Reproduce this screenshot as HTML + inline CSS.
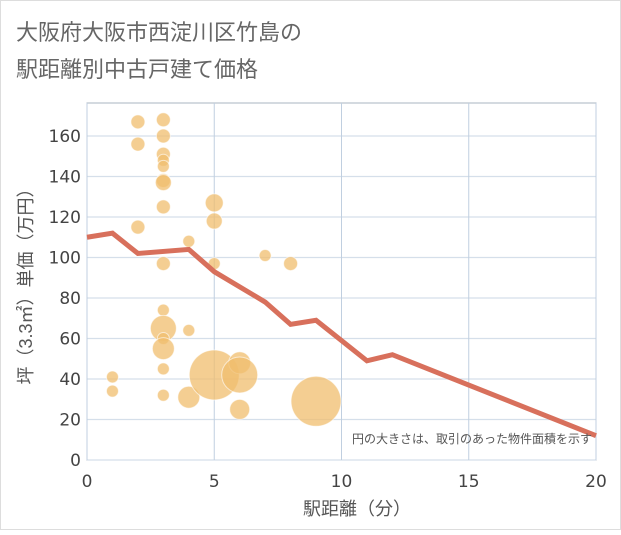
<!DOCTYPE html>
<html><head><meta charset="utf-8"><style>
body{margin:0;background:#fff}
svg text{font-family:"Liberation Sans","Noto Sans CJK JP",sans-serif}
svg text.tk{font-family:"DejaVu Sans","Liberation Sans",sans-serif}
</style></head><body>
<svg id="c" width="621" height="530" xmlns="http://www.w3.org/2000/svg">
<rect x="0.5" y="0.5" width="620" height="529" fill="#fff" stroke="#ddd"/>
<text x="16" y="40" font-size="22" fill="#666">大阪府大阪市西淀川区竹島の</text>
<text x="16" y="77" font-size="22" fill="#666">駅距離別中古戸建て価格</text>
<g id="grid"></g><g id="bub"></g><g id="ln"></g><g id="ax"></g>
<text x="592" y="443" font-size="12" fill="#555" text-anchor="end">円の大きさは、取引のあった物件面積を示す</text>
<text x="357" y="515" font-size="18" fill="#555" text-anchor="middle">駅距離（分）</text>
<text transform="translate(32,282) rotate(-90)" font-size="18" fill="#555" text-anchor="middle">坪（3.3㎡）単価（万円）</text>
</svg>
<script>
const xTicks=[0,5,10,15,20];
const yTicks=[0,20,40,60,80,100,120,140,160];
const bubX=[1,1,2,2,2,3,3,3,3,3,3,3,3,3,3,3,3,3,3,3,4,4,4,5,5,5,5,6,6,6,7,8,9];
const bubY=[41,34,167,156,115,168,160,151,148,145,138,137,125,97,74,65,60,55,45,32,108,64,31,127,118,97,42,48,42,25,101,97,29];
const bubR=[6,6,7,7,7,7,7,7,6,6,7,8,7,7,6,13,6,11,6,6,6,6,11,9,8,6,25,11,18,10,6,7,25];
const lineX=[0,1,2,4,5,7,8,9,11,12,20];
const lineY=[110,112,102,104,93,78,67,69,49,52,12];
const X=v=>87+v*(596-87)/20, Y=v=>460-v*(460-136)/160;
const NS="http://www.w3.org/2000/svg";
function mk(t,a,p){const e=document.createElementNS(NS,t);for(const k in a)e.setAttribute(k,a[k]);p.appendChild(e);return e;}
const g=document.getElementById('grid');
mk('rect',{x:87,y:103,width:509,height:357,fill:'none',stroke:'#aab4c0'},g);
yTicks.forEach(v=>{const l=mk('line',{x1:87,x2:596,y1:Y(v),y2:Y(v),stroke:'#d5dfea','stroke-width':1.3},g);

});
xTicks.forEach(v=>{const l=mk('line',{x1:X(v),x2:X(v),y1:103,y2:460,stroke:'#c0cfe0','stroke-width':1},g);

});
const b=document.getElementById('bub');
bubX.forEach((v,i)=>{const c=mk('circle',{cx:X(v),cy:Y(bubY[i]),r:bubR[i],fill:'rgba(240,190,110,0.75)',stroke:'rgba(255,255,255,0.6)','stroke-width':1},b);

});
const p=mk('polyline',{points:lineX.map((v,i)=>X(v)+','+Y(lineY[i])).join(' '),fill:'none',stroke:'#d8705c','stroke-width':5,'stroke-linejoin':'miter'},document.getElementById('ln'));


const a=document.getElementById('ax');
xTicks.forEach(v=>{const t=mk('text',{x:X(v),y:487,'font-size':17,fill:'#444','text-anchor':'middle','class':'tk'},a);t.textContent=v;

});
yTicks.forEach(v=>{const t=mk('text',{x:81,y:Y(v)+6,'font-size':17,fill:'#444','text-anchor':'end','class':'tk'},a);t.textContent=v;

});
</script>
</body></html>
